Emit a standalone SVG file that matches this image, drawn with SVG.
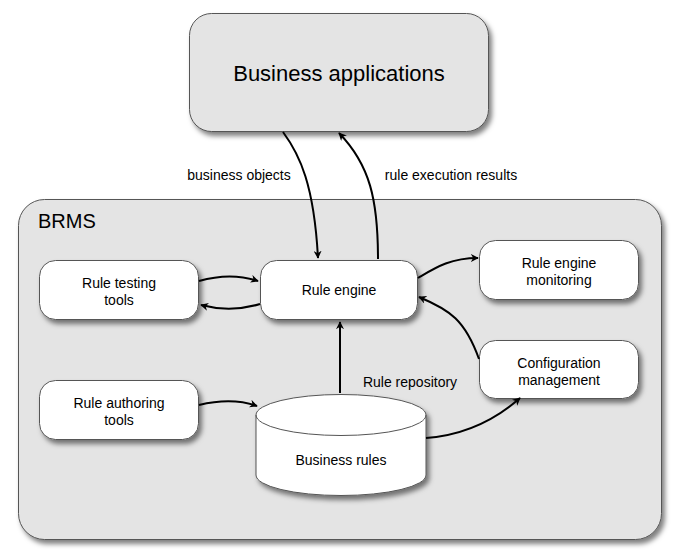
<svg xmlns="http://www.w3.org/2000/svg" width="684" height="553" viewBox="0 0 684 553">
<defs>
<filter id="sh" x="-10%" y="-10%" width="130%" height="130%">
<feDropShadow dx="3" dy="4" stdDeviation="2.5" flood-color="#000" flood-opacity="0.5"/>
</filter>
<marker id="ah" viewBox="0 0 10 10" refX="9" refY="5" markerWidth="8" markerHeight="8" orient="auto" markerUnits="userSpaceOnUse">
<path d="M0,0 L10,5 L0,10 L3,5 Z" fill="#000"/>
</marker>
<style>
.box{fill:#fff;stroke:#555;stroke-width:1}
.grey{fill:#e4e4e4;stroke:#555;stroke-width:1}
.t{font-family:"Liberation Sans",Arial,sans-serif;font-size:14px;fill:#000;text-anchor:middle}
.c{fill:none;stroke:#000;stroke-width:2;marker-end:url(#ah)}
</style>
</defs>
<rect width="684" height="553" fill="#fff"/>
<g id="business-applications">
<rect class="grey" x="189.5" y="13.5" width="299" height="118" rx="22" filter="url(#sh)"/>
<text class="t" x="339" y="81" style="font-size:22px">Business applications</text>
</g>
<g id="brms">
<rect class="grey" x="18.5" y="199.5" width="643" height="340" rx="26" filter="url(#sh)"/>
<text class="t" x="38" y="228" style="font-size:20px;text-anchor:start">BRMS</text>
</g>
<g id="rule-testing-tools">
<rect class="box" x="39.5" y="260.5" width="159" height="59" rx="16" filter="url(#sh)"/>
<text class="t" x="119" y="288">Rule testing</text>
<text class="t" x="119" y="305">tools</text>
</g>
<g id="rule-engine">
<rect class="box" x="260.5" y="260.5" width="157" height="59" rx="16" filter="url(#sh)"/>
<text class="t" x="339" y="295">Rule engine</text>
</g>
<g id="rule-engine-monitoring">
<rect class="box" x="479.5" y="240.5" width="159" height="59" rx="16" filter="url(#sh)"/>
<text class="t" x="559" y="268">Rule engine</text>
<text class="t" x="559" y="285">monitoring</text>
</g>
<g id="configuration-management">
<rect class="box" x="479.5" y="340.5" width="159" height="58" rx="16" filter="url(#sh)"/>
<text class="t" x="559" y="368">Configuration</text>
<text class="t" x="559" y="385">management</text>
</g>
<g id="rule-authoring-tools">
<rect class="box" x="39.5" y="380.5" width="159" height="59" rx="16" filter="url(#sh)"/>
<text class="t" x="119" y="408">Rule authoring</text>
<text class="t" x="119" y="425">tools</text>
</g>
<g id="business-rules">
<path class="box" d="M256,415 A85,20.5 0 0 1 426,415 L426,475 A85,20.5 0 0 1 256,475 Z" filter="url(#sh)"/>
<path d="M256,415 A85,20.5 0 0 0 426,415" fill="none" stroke="#555" stroke-width="1"/>
<text class="t" x="341" y="465">Business rules</text>
</g>
<g id="connectors">
<path class="c" d="M283,132 C300,155 314,185 318,258"/>
<path class="c" d="M378,259 C378,200 370,165 339,133"/>
<path class="c" d="M199,281 C220,275 240,275 258,281"/>
<path class="c" d="M260,304 C240,310 220,310 201,305"/>
<path class="c" d="M418,278 C435,268 450,258 478,258"/>
<path class="c" d="M479,359 C465,320 450,310 419,297"/>
<path class="c" d="M340,393 L340,322"/>
<path class="c" d="M199,405 C220,400 240,400 257,406"/>
<path class="c" d="M426,438 C465,435 495,420 520,398"/>
</g>
<g id="labels">
<text class="t" x="239" y="180">business objects</text>
<text class="t" x="451" y="180">rule execution results</text>
<text class="t" x="410" y="387">Rule repository</text>
</g>
</svg>
